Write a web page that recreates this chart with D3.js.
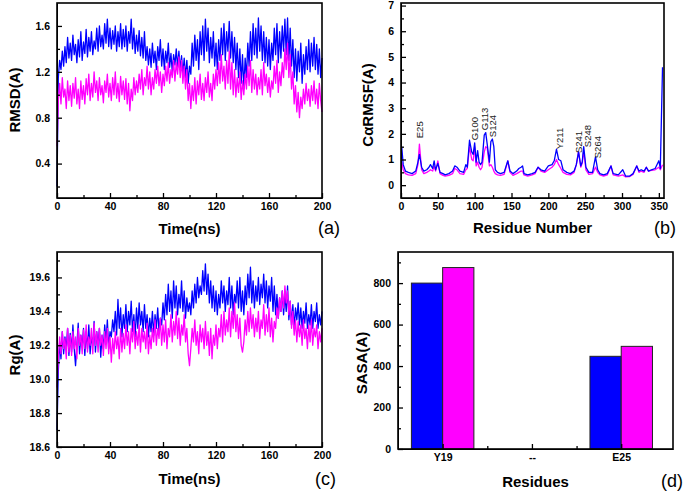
<!DOCTYPE html>
<html>
<head>
<meta charset="utf-8">
<script src="https://cdn.jsdelivr.net/npm/d3@7"></script>
<style>
  body { margin: 0; background: #fff; }
  text { font-family: "Liberation Sans", Arial, sans-serif; }
</style>
</head>
<body>
<svg id="drawing_region" width="685" height="494"></svg>
<script>
// ---- data ----
// time axis, 1 ns sampling, 0..200 ns
const time = d3.range(0, 201);

// (a) RMSD (A)
const rmsdBlue = [0.20,
  1.15, 1.30, 1.22, 1.38, 1.25, 1.42, 1.28, 1.50, 1.32, 1.45,
  1.30, 1.52, 1.35, 1.44, 1.28, 1.48, 1.33, 1.55, 1.30, 1.46,
  1.36, 1.57, 1.33, 1.50, 1.38, 1.55, 1.35, 1.47, 1.40, 1.58,
  1.38, 1.60, 1.42, 1.52, 1.40, 1.62, 1.45, 1.66, 1.42, 1.58,
  1.40, 1.56, 1.44, 1.60, 1.38, 1.55, 1.42, 1.62, 1.40, 1.57,
  1.42, 1.60, 1.38, 1.55, 1.45, 1.66, 1.40, 1.58, 1.36, 1.52,
  1.38, 1.56, 1.34, 1.50, 1.32, 1.55, 1.30, 1.42, 1.26, 1.40,
  1.24, 1.45, 1.28, 1.38, 1.22, 1.42, 1.30, 1.48, 1.25, 1.40,
  1.22, 1.38, 1.28, 1.45, 1.24, 1.36, 1.20, 1.35, 1.26, 1.40,
  1.24, 1.38, 1.22, 1.34, 1.18, 1.32, 1.15, 1.30, 1.10, 1.25,
  1.18, 1.45, 1.25, 1.52, 1.30, 1.48, 1.22, 1.55, 1.35, 1.60,
  1.30, 1.66, 1.38, 1.58, 1.28, 1.50, 1.32, 1.55, 1.25, 1.45,
  1.22, 1.48, 1.30, 1.58, 1.35, 1.62, 1.30, 1.55, 1.38, 1.64,
  1.32, 1.55, 1.28, 1.50, 1.22, 1.45, 1.15, 1.40, 1.10, 1.35,
  1.05, 1.32, 1.15, 1.45, 1.25, 1.55, 1.30, 1.62, 1.35, 1.58,
  1.32, 1.67, 1.38, 1.60, 1.30, 1.55, 1.28, 1.50, 1.25, 1.48,
  1.22, 1.45, 1.30, 1.58, 1.35, 1.62, 1.28, 1.55, 1.32, 1.60,
  1.38, 1.66, 1.35, 1.67, 1.30, 1.58, 1.25, 1.48, 1.15, 1.40,
  1.12, 1.38, 1.20, 1.45, 1.10, 1.35, 1.18, 1.42, 1.22, 1.48,
  1.20, 1.45, 1.25, 1.50, 1.22, 1.44, 1.18, 1.40, 1.15, 1.32];
const rmsdMagenta = [0.55,
  0.95, 1.10, 0.92, 1.15, 0.98, 1.05, 0.88, 1.12, 0.95, 1.08,
  0.90, 1.10, 0.97, 1.15, 0.92, 1.05, 0.88, 1.12, 0.96, 1.08,
  0.92, 1.14, 1.00, 1.18, 0.95, 1.10, 0.98, 1.20, 1.02, 1.12,
  0.95, 1.15, 1.00, 1.08, 0.93, 1.12, 1.02, 1.18, 0.98, 1.10,
  0.95, 1.15, 1.00, 1.20, 0.97, 1.10, 0.94, 1.16, 1.00, 1.12,
  0.96, 1.14, 0.92, 1.10, 0.86, 1.05, 0.95, 1.15, 1.00, 1.12,
  1.02, 1.18, 1.05, 1.22, 1.00, 1.15, 1.08, 1.25, 1.05, 1.20,
  1.00, 1.15, 1.05, 1.22, 1.10, 1.25, 1.08, 1.20, 1.02, 1.18,
  1.08, 1.25, 1.12, 1.28, 1.10, 1.22, 1.15, 1.30, 1.12, 1.28,
  1.18, 1.33, 1.15, 1.30, 1.10, 1.25, 1.05, 1.22, 0.95, 1.10,
  0.88, 1.08, 0.95, 1.15, 0.92, 1.12, 1.00, 1.18, 0.96, 1.10,
  0.95, 1.15, 1.02, 1.20, 0.98, 1.10, 0.95, 1.18, 1.05, 1.22,
  1.08, 1.28, 1.10, 1.35, 1.12, 1.25, 1.05, 1.30, 1.10, 1.38,
  1.05, 1.28, 1.00, 1.22, 0.98, 1.15, 1.02, 1.20, 0.96, 1.12,
  1.00, 1.18, 1.05, 1.25, 1.08, 1.30, 1.02, 1.22, 1.05, 1.18,
  1.00, 1.15, 1.05, 1.22, 1.00, 1.28, 1.08, 1.18, 1.02, 1.15,
  0.98, 1.12, 1.05, 1.25, 1.10, 1.30, 1.02, 1.20, 1.08, 1.28,
  1.15, 1.40, 1.22, 1.45, 1.15, 1.35, 1.05, 1.20, 0.92, 1.08,
  0.85, 1.02, 0.80, 0.98, 0.88, 1.05, 0.92, 1.10, 0.95, 1.05,
  0.90, 1.08, 0.95, 1.12, 0.92, 1.05, 0.88, 1.10, 0.95, 0.85];

// (c) Rg (A)
const rgBlue = [18.70,
  19.05, 19.22, 19.12, 19.28, 19.15, 19.25, 19.18, 19.30, 19.14, 19.27,
  19.16, 19.32, 19.18, 19.08, 19.20, 19.33, 19.15, 19.26, 19.19, 19.30,
  19.14, 19.28, 19.18, 19.32, 19.15, 19.25, 19.20, 19.34, 19.16, 19.28,
  19.20, 19.30, 19.13, 19.26, 19.18, 19.32, 19.22, 19.35, 19.18, 19.28,
  19.25, 19.35, 19.28, 19.40, 19.26, 19.47, 19.30, 19.42, 19.25, 19.38,
  19.30, 19.44, 19.28, 19.40, 19.32, 19.46, 19.28, 19.38, 19.25, 19.42,
  19.30, 19.45, 19.32, 19.40, 19.28, 19.44, 19.30, 19.38, 19.25, 19.36,
  19.28, 19.40, 19.26, 19.38, 19.30, 19.42, 19.28, 19.36, 19.32, 19.45,
  19.35, 19.50, 19.38, 19.56, 19.40, 19.52, 19.36, 19.58, 19.42, 19.55,
  19.38, 19.50, 19.42, 19.58, 19.40, 19.52, 19.36, 19.48, 19.40, 19.45,
  19.38, 19.52, 19.42, 19.56, 19.45, 19.60, 19.48, 19.55, 19.50, 19.64,
  19.52, 19.68, 19.50, 19.62, 19.45, 19.58, 19.42, 19.55, 19.40, 19.52,
  19.38, 19.50, 19.42, 19.58, 19.45, 19.55, 19.40, 19.52, 19.44, 19.60,
  19.42, 19.55, 19.38, 19.50, 19.45, 19.58, 19.42, 19.60, 19.40, 19.52,
  19.38, 19.55, 19.44, 19.62, 19.48, 19.66, 19.45, 19.58, 19.42, 19.55,
  19.46, 19.60, 19.44, 19.56, 19.48, 19.62, 19.45, 19.58, 19.42, 19.55,
  19.46, 19.60, 19.40, 19.55, 19.38, 19.50, 19.36, 19.48, 19.40, 19.52,
  19.38, 19.50, 19.40, 19.55, 19.35, 19.46, 19.32, 19.44, 19.30, 19.42,
  19.35, 19.45, 19.32, 19.42, 19.30, 19.40, 19.33, 19.45, 19.30, 19.38,
  19.32, 19.44, 19.30, 19.40, 19.34, 19.45, 19.30, 19.38, 19.32, 19.40];
const rgMagenta = [18.95,
  19.12, 19.25, 19.15, 19.28, 19.18, 19.24, 19.12, 19.30, 19.16, 19.26,
  19.14, 19.28, 19.18, 19.25, 19.12, 19.30, 19.20, 19.26, 19.15, 19.29,
  19.18, 19.32, 19.16, 19.25, 19.20, 19.30, 19.15, 19.33, 19.20, 19.28,
  19.16, 19.30, 19.20, 19.26, 19.14, 19.28, 19.18, 19.30, 19.15, 19.25,
  19.10, 19.24, 19.15, 19.28, 19.18, 19.25, 19.12, 19.30, 19.16, 19.27,
  19.18, 19.32, 19.20, 19.28, 19.15, 19.30, 19.22, 19.34, 19.18, 19.28,
  19.20, 19.32, 19.16, 19.30, 19.22, 19.28, 19.18, 19.33, 19.15, 19.26,
  19.18, 19.30, 19.22, 19.35, 19.20, 19.30, 19.24, 19.36, 19.20, 19.32,
  19.22, 19.35, 19.18, 19.30, 19.25, 19.38, 19.22, 19.34, 19.26, 19.40,
  19.24, 19.36, 19.20, 19.32, 19.26, 19.38, 19.22, 19.30, 19.15, 19.08,
  19.18, 19.30, 19.22, 19.35, 19.20, 19.28, 19.15, 19.32, 19.22, 19.30,
  19.18, 19.34, 19.20, 19.28, 19.14, 19.30, 19.12, 19.26, 19.20, 19.32,
  19.18, 19.30, 19.25, 19.38, 19.22, 19.40, 19.26, 19.35, 19.28, 19.42,
  19.25, 19.40, 19.30, 19.45, 19.28, 19.38, 19.24, 19.36, 19.20, 19.16,
  19.22, 19.35, 19.26, 19.40, 19.28, 19.42, 19.30, 19.38, 19.25, 19.36,
  19.28, 19.40, 19.24, 19.35, 19.30, 19.44, 19.26, 19.38, 19.28, 19.42,
  19.25, 19.36, 19.22, 19.34, 19.30, 19.42, 19.36, 19.48, 19.40, 19.52,
  19.42, 19.55, 19.45, 19.52, 19.38, 19.46, 19.30, 19.40, 19.26, 19.35,
  19.22, 19.34, 19.25, 19.32, 19.20, 19.35, 19.24, 19.30, 19.18, 19.32,
  19.22, 19.35, 19.20, 19.30, 19.25, 19.32, 19.18, 19.28, 19.22, 19.30];

// (b) C-alpha RMSF (A) per residue
const residues = [1, 3, 6, 10, 15, 20, 23, 25, 28, 31, 35, 38, 40, 43, 45, 47, 50, 53, 57, 60,
  65, 70, 73, 76, 80, 85, 88, 90, 93, 96, 98, 100, 102, 104, 106, 108, 110, 113, 115, 117,
  120, 122, 124, 126, 128, 131, 135, 140, 145, 148, 152, 157, 160, 163, 165, 167, 172, 178, 182, 186,
  190, 195, 200, 205, 208, 211, 214, 217, 220, 225, 230, 235, 238, 241, 244, 246, 248, 251, 255, 260,
  264, 267, 270, 275, 280, 285, 288, 295, 301, 305, 310, 315, 320, 323, 326, 330, 333, 336, 340, 345,
  350, 352, 355];
const rmsfBlue = [1.50, 0.80, 0.55, 0.50, 0.45, 0.55, 0.90, 1.20, 0.70, 0.55,
  0.60, 0.70, 0.80, 0.65, 0.95, 0.60, 0.85, 0.50, 0.45, 0.40,
  0.45, 0.55, 0.75, 0.70, 0.55, 0.50, 0.80, 0.70, 1.75, 1.30,
  1.20, 1.65, 0.90, 1.35, 0.90, 0.80, 0.90, 1.95, 2.05, 1.60,
  0.90, 1.70, 1.80, 1.50, 0.60, 0.50, 0.45, 0.50, 0.95, 0.55,
  0.45, 0.55, 0.65, 0.70, 0.75, 0.45, 0.40, 0.45, 0.50, 0.70,
  0.60, 0.55, 0.75, 0.80, 0.95, 1.40, 1.00, 0.95, 0.60, 0.50,
  0.45, 0.55, 0.80, 1.30, 0.75, 0.90, 1.50, 0.70, 0.50, 0.50,
  1.10, 0.60, 0.45, 0.40, 0.45, 0.75, 0.45, 0.40, 0.60, 0.35,
  0.35, 0.45, 0.75, 0.55, 0.60, 0.55, 0.70, 0.55, 0.60, 0.65,
  0.95, 0.65, 4.60];
const rmsfMagenta = [0.90, 0.60, 0.45, 0.40, 0.38, 0.45, 0.80, 1.60, 0.60, 0.45,
  0.50, 0.55, 0.60, 0.55, 0.75, 0.55, 0.95, 0.45, 0.38, 0.35,
  0.38, 0.45, 0.65, 0.60, 0.45, 0.42, 0.60, 0.65, 1.50, 1.00,
  0.95, 1.50, 0.75, 0.90, 0.70, 0.60, 0.70, 1.30, 1.50, 1.45,
  0.75, 0.80, 0.70, 0.55, 0.45, 0.40, 0.38, 0.42, 0.95, 0.50,
  0.38, 0.45, 0.50, 0.55, 0.55, 0.40, 0.35, 0.40, 0.45, 0.70,
  0.55, 0.50, 0.60, 0.70, 0.80, 1.00, 0.80, 0.65, 0.50, 0.42,
  0.40, 0.50, 0.80, 1.30, 0.70, 0.85, 1.35, 0.60, 0.42, 0.45,
  0.70, 0.50, 0.40, 0.35, 0.40, 0.75, 0.40, 0.35, 0.40, 0.32,
  0.33, 0.42, 0.75, 0.50, 0.55, 0.50, 0.70, 0.55, 0.58, 0.60,
  0.70, 0.60, 0.80];
// peak annotations: label, residue where it stands, RMSF level of its lower end
const peakLabels = ["E25", "G100", "G113", "S124", "Y211", "S241", "S248", "S264"];
const peakResidues = [26, 100, 113, 125, 215, 241, 253, 267];
const peakLabelBase = [1.83, 1.75, 2.14, 1.87, 1.40, 1.25, 1.48, 1.05];

// (d) SASA (A)
const sasaResidues = ["Y19", "--", "E25"];
const sasaBlue = [800, null, 447];
const sasaMagenta = [875, null, 495];

// ticks
const timeMajor = [0, 40, 80, 120, 160, 200];
const timeMinor = [20, 60, 100, 140, 180];
const rmsdMajor = [0.4, 0.8, 1.2, 1.6];
const rmsdMinor = [0.2, 0.6, 1.0, 1.4];
const resMajor = [0, 50, 100, 150, 200, 250, 300, 350];
const resMinor = [25, 75, 125, 175, 225, 275, 325];
const rmsfMajor = [0, 1, 2, 3, 4, 5, 6, 7];
const rmsfMinor = [0.5, 1.5, 2.5, 3.5, 4.5, 5.5, 6.5];
const rgMajor = [18.6, 18.8, 19.0, 19.2, 19.4, 19.6];
const rgMinor = [18.7, 18.9, 19.1, 19.3, 19.5, 19.7];
const sasaMajor = [0, 200, 400, 600, 800];
const sasaMinor = [100, 300, 500, 700, 900];

const BLUE = "#0000ff";
const MAGENTA = "#ff00ff";

const svg = d3.select("#drawing_region");

function axes(g, x, y, p, o) {
    let xa = g.append("g").attr("transform", `translate(0,${p.height})`)
        .call(d3.axisBottom(x).tickValues(o.xMajor).tickSizeInner(-5).tickSizeOuter(0)
            .tickPadding(5).tickFormat(o.xFmt || null));
    g.append("g").attr("transform", `translate(0,${p.height})`)
        .call(d3.axisBottom(x).tickValues(o.xMinor).tickSize(-3).tickFormat(""))
        .call(s => s.select(".domain").remove());
    let ya = g.append("g")
        .call(d3.axisLeft(y).tickValues(o.yMajor).tickSizeInner(-5).tickSizeOuter(0)
            .tickPadding(7).tickFormat(o.yFmt || null));
    g.append("g")
        .call(d3.axisLeft(y).tickValues(o.yMinor).tickSize(-3).tickFormat(""))
        .call(s => s.select(".domain").remove());
    [xa, ya].forEach(a => a.selectAll("text")
        .attr("font-family", "'Liberation Sans', Arial, sans-serif")
        .attr("font-size", "10.5px").attr("font-weight", "bold").attr("fill", "#000"));
    g.selectAll(".tick line").attr("stroke-width", 1.3);
    g.append("rect").attr("width", p.width).attr("height", p.height)
        .attr("fill", "none").attr("stroke", "#000").attr("stroke-width", 1.6);
}

function titles(p, xt, yt, letter) {
    svg.append("text").attr("x", p.left + p.width / 2).attr("y", p.xtY)
        .attr("text-anchor", "middle").attr("font-size", "15px").attr("font-weight", "bold")
        .text(xt);
    svg.append("text")
        .attr("transform", `translate(${p.ytX},${p.ytY}) rotate(-90)`)
        .attr("text-anchor", "middle").attr("font-size", "15px").attr("font-weight", "bold")
        .text(yt);
    svg.append("text").attr("x", p.lx).attr("y", p.ly)
        .attr("font-family", "'Liberation Serif', 'Times New Roman', serif")
        .attr("font-size", "18px").text(letter);
}

function seriesPanel(p, xDom, yDom, xs, list, o) {
    const g = svg.append("g").attr("transform", `translate(${p.left},${p.top})`);
    const x = d3.scaleLinear().domain(xDom).range([0, p.width]);
    const y = d3.scaleLinear().domain(yDom).range([p.height, 0]);
    const line = d3.line().x((d, i) => x(xs[i])).y(d => y(d));
    list.forEach(s => {
        g.append("path").datum(s.values)
            .attr("d", line).attr("fill", "none")
            .attr("stroke", s.color).attr("stroke-width", s.width || 1)
            .attr("stroke-linejoin", "round");
    });
    axes(g, x, y, p, o);
    return { g, x, y };
}

// (a) RMSD
const pa = { left: 57, top: 3, width: 265, height: 195, xtY: 234, ytX: 20, ytY: 100, lx: 318, ly: 234 };
seriesPanel(pa, [0, 200], [0.1, 1.8], time,
    [{ values: rmsdBlue, color: BLUE, width: 1.3 }, { values: rmsdMagenta, color: MAGENTA, width: 1.3 }],
    { xMajor: timeMajor, xMinor: timeMinor, yMajor: rmsdMajor, yMinor: rmsdMinor, yFmt: d3.format(".1f") });
titles(pa, "Time(ns)", "RMSD(A)", "(a)");

// (b) RMSF
const pb = { left: 401, top: 3, width: 263, height: 195, xtY: 233, ytX: 373, ytY: 105, lx: 654, ly: 234 };
const b = seriesPanel(pb, [0, 357], [-0.5, 7.1], residues,
    [{ values: rmsfMagenta, color: MAGENTA, width: 1.3 }, { values: rmsfBlue, color: BLUE, width: 1.3 }],
    { xMajor: resMajor, xMinor: resMinor, yMajor: rmsfMajor, yMinor: rmsfMinor });
b.g.selectAll(".peak")
    .data(peakLabels)
    .enter()
    .append("text")
    .attr("class", "peak")
    .attr("transform", (d, i) => `translate(${b.x(peakResidues[i]) + 3.3},${b.y(peakLabelBase[i])}) rotate(-90)`)
    .attr("font-family", "'Liberation Sans Narrow', 'Liberation Sans', Arial, sans-serif")
    .attr("font-size", "9.5px").attr("fill", "#222")
    .text(d => d);
titles(pb, "Residue Number", "CαRMSF(A)", "(b)");

// (c) Rg
const pc = { left: 57, top: 252, width: 265, height: 195, xtY: 484, ytX: 20, ytY: 355, lx: 315, ly: 485 };
seriesPanel(pc, [0, 200], [18.6, 19.75], time,
    [{ values: rgBlue, color: BLUE, width: 1.3 }, { values: rgMagenta, color: MAGENTA, width: 1.3 }],
    { xMajor: timeMajor, xMinor: timeMinor, yMajor: rgMajor, yMinor: rgMinor, yFmt: d3.format(".1f") });
titles(pc, "Time(ns)", "Rg(A)", "(c)");

// (d) SASA bars
const pd = { left: 398, top: 252, width: 275, height: 197, xtY: 487, ytX: 367, ytY: 363, lx: 661, ly: 487 };
{
    const g = svg.append("g").attr("transform", `translate(${pd.left},${pd.top})`);
    const x = d3.scaleLinear().domain([-0.5, 2.58]).range([0, pd.width]);
    const y = d3.scaleLinear().domain([0, 950]).range([pd.height, 0]);
    const bw = x(0.35) - x(0);
    const groups = [{ values: sasaBlue, color: BLUE, off: -1 }, { values: sasaMagenta, color: MAGENTA, off: 0 }];
    groups.forEach(s => {
        g.selectAll(null)
            .data(s.values.map((v, i) => ({ v, i })).filter(d => d.v != null))
            .enter()
            .append("rect")
            .attr("x", d => x(d.i) + s.off * bw)
            .attr("y", d => y(d.v))
            .attr("width", bw)
            .attr("height", d => y(0) - y(d.v))
            .attr("fill", s.color)
            .attr("stroke", "#222")
            .attr("stroke-width", 1);
    });
    axes(g, x, y, pd, {
        xMajor: [0, 1, 2], xMinor: [0.5, 1.5], xFmt: i => sasaResidues[i],
        yMajor: sasaMajor, yMinor: sasaMinor
    });
}
titles(pd, "Residues", "SASA(A)", "(d)");
</script>
</body>
</html>
